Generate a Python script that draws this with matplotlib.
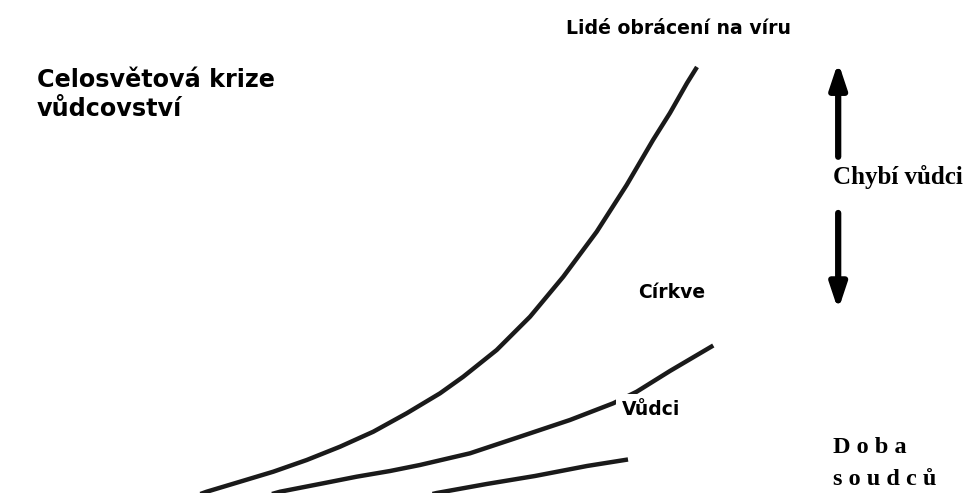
import matplotlib.pyplot as plt

# Curves (x: 0-100 across, y: 0-100 up)
converts_x = [20.12, 21.33, 24.77, 28.20, 31.65, 35.09, 38.52, 41.97, 45.41, 47.81,
              51.26, 54.70, 58.13, 61.58, 64.67, 67.39, 69.14, 70.90, 71.93]
converts_y = [-0.6, 0.26, 2.29, 4.32, 6.69, 9.39, 12.43, 16.17, 20.22, 23.59,
              29.01, 35.76, 43.87, 53.00, 62.47, 71.60, 77.08, 83.16, 86.41]

churches_x = [27.35, 28.90, 33.36, 36.81, 40.25, 43.34, 48.50, 53.66, 58.82, 63.29,
              65.71, 69.14, 73.61]
churches_y = [-0.6, 0.26, 1.97, 3.31, 4.46, 5.68, 8.05, 11.42, 14.81, 18.20,
              20.55, 24.75, 29.92]

leaders_x = [43.34, 45.07, 50.23, 55.21, 60.58, 64.81]
leaders_y = [-0.8, 0.0, 1.83, 3.45, 5.48, 6.80]

line_color = '#1a1a1a'
sans = 'DejaVu Sans'
serif = 'Liberation Serif'

fig = plt.figure(figsize=(9.69, 4.93), dpi=100)
ax = fig.add_axes([0, 0, 1, 1])
ax.set_xlim(0, 100)
ax.set_ylim(0, 100)
ax.axis('off')

for xs, ys in [(converts_x, converts_y), (churches_x, churches_y), (leaders_x, leaders_y)]:
    ax.plot(xs, ys, color=line_color, lw=3.2, solid_capstyle='butt',
            solid_joinstyle='round', zorder=1)

# labels
ax.text(70.0, 94.3, 'Lidé obrácení na víru', ha='center', va='center',
        fontsize=13.6, fontweight='bold', family=sans)
ax.text(3.8, 80.8, 'Celosvětová krize\nvůdcovství', ha='left', va='center',
        fontsize=17.2, fontweight='bold', family=sans, linespacing=1.25)
ax.text(69.3, 40.6, 'Církve', ha='center', va='center',
        fontsize=13.5, fontweight='bold', family=sans,
        bbox=dict(facecolor='white', edgecolor='none', pad=4), zorder=3)
ax.text(64.2, 17.0, 'Vůdci', ha='left', va='center',
        fontsize=13.5, fontweight='bold', family=sans,
        bbox=dict(facecolor='white', edgecolor='none', pad=4), zorder=3)
ax.text(86.0, 64.1, 'Chybí vůdci', ha='left', va='center',
        fontsize=18, fontweight='bold', family=serif)
ax.text(86.0, 6.0, 'D o b a\ns o u d c ů', ha='left', va='center',
        fontsize=17.5, fontweight='bold', family=serif, linespacing=1.65)

# arrows
arrow = dict(arrowstyle='-|>,head_length=1.5,head_width=0.5', color='black', lw=4.5,
             shrinkA=0, shrinkB=0, mutation_scale=10)
ax.annotate('', xy=(86.5, 87.4), xytext=(86.5, 68.2), arrowprops=arrow)
ax.annotate('', xy=(86.5, 37.1), xytext=(86.5, 56.8), arrowprops=arrow)

fig.savefig('out.png', dpi=100, facecolor='white')
